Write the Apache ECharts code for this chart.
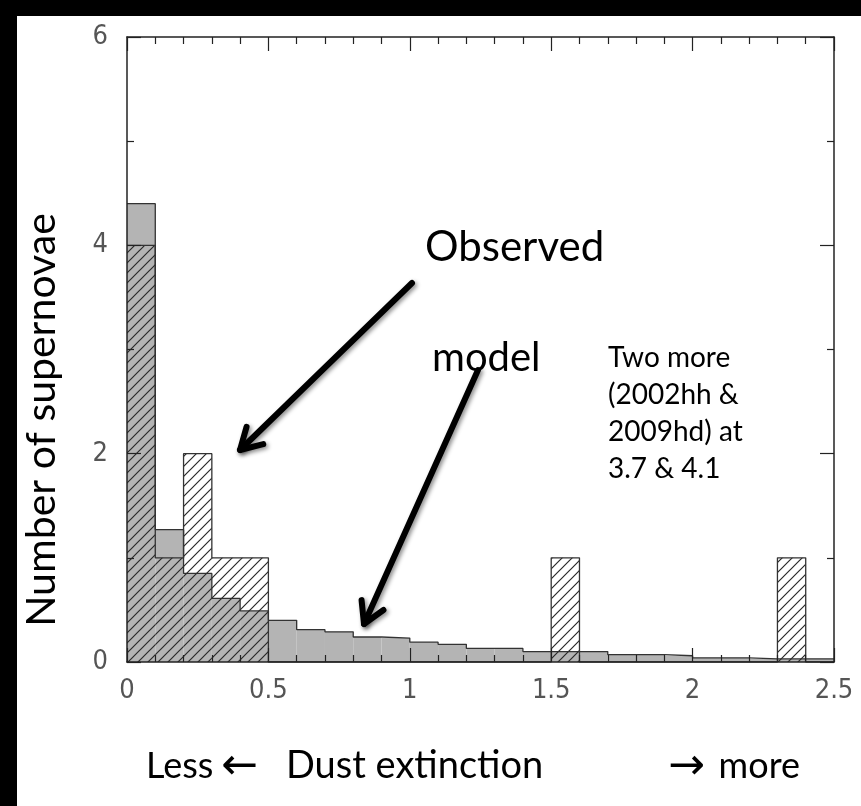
<!DOCTYPE html>
<html>
<head>
<meta charset="utf-8">
<script src="https://cdn.jsdelivr.net/npm/echarts@6/dist/echarts.min.js"></script>
<style>html,body{margin:0;padding:0;background:#fff}#c{width:861px;height:806px}</style>
</head>
<body>
<div id="c"></div>
<script>
// ---- data ----
const binLo = [0.0,0.1,0.2,0.3,0.4,0.5,0.6,0.7,0.8,0.9,1.0,1.1,1.2,1.3,1.4,1.5,1.6,1.7,1.8,1.9,2.0,2.1,2.2,2.3,2.4];
const binWidth = 0.1;
const modelCounts = [4.4,1.27,0.85,0.61,0.49,0.40,0.31,0.29,0.24,0.23,0.19,0.17,0.13,0.13,0.10,0.10,0.10,0.07,0.07,0.06,0.04,0.04,0.03,0.03,0.03];
const observedCounts = [4,1,2,1,1,0,0,0,0,0,0,0,0,0,0,1,0,0,0,0,0,0,0,1,0];
const xTickValues = [0,0.5,1,1.5,2,2.5];
const yTickValues = [0,2,4,6];
const xTitle = 'Dust extinction';
const xLeftWord = 'Less';
const xLeftArrow = '\u2190';
const xRightArrow = '\u2192';
const xRightWord = 'more';
const yTitle = 'Number of supernovae';
const noteObserved = 'Observed';
const noteModel = 'model';
const noteExtra = 'Two more\n(2002hh &\n2009hd) at\n3.7 & 4.1';

// ---- hatch pattern ----
const hc = document.createElement('canvas');
hc.width = 10; hc.height = 10;
const hx = hc.getContext('2d');
hx.strokeStyle = '#2a2a2a'; hx.lineWidth = 1.2;
hx.beginPath();
hx.moveTo(-5,5); hx.lineTo(5,-5);
hx.moveTo(0,10); hx.lineTo(10,0);
hx.moveTo(5,15); hx.lineTo(15,5);
hx.stroke();

const xMax = xTickValues[xTickValues.length-1];
const yMax = yTickValues[yTickValues.length-1];

function histData(counts){ return binLo.map((lo,i)=>[lo, lo+binWidth, counts[i]]); }
function stepData(counts){ const d = binLo.map((lo,i)=>[lo, counts[i]]); d.push([xMax, counts[counts.length-1]]); return d; }
function rectRenderer(fill){
  return function(params, api){
    const v = api.value(2);
    if (!v) return null;
    const p0 = api.coord([api.value(0), v]);
    const p1 = api.coord([api.value(1), 0]);
    return {type:'rect', shape:{x:p0[0], y:p0[1], width:p1[0]-p0[0], height:p1[1]-p0[1]}, style:{fill: fill}};
  };
}

const axisColor = '#222';
const tickFont = "'Liberation Sans Narrow', 'DejaVu Sans Condensed', 'Liberation Sans'";
function xAx(pos, showLabel){
  return {type:'value', position:pos, min:0, max:xMax, interval:xTickValues[1]-xTickValues[0], z:10,
    axisLine:{show:true, onZero:false, lineStyle:{color:axisColor, width:1.5}},
    axisTick:{show:true, inside:true, length:14, lineStyle:{color:axisColor, width:1.2}},
    minorTick:{show:true, splitNumber:5, length:7, lineStyle:{color:axisColor, width:1.2}},
    splitLine:{show:false}, minorSplitLine:{show:false},
    axisLabel:{show:showLabel, margin:15, fontFamily:tickFont, fontSize:27, color:'#555', showMinLabel:true, showMaxLabel:true}};
}
function yAx(pos, showLabel){
  return {type:'value', position:pos, min:0, max:yMax, interval:yTickValues[1]-yTickValues[0], z:10,
    axisLine:{show:true, onZero:false, lineStyle:{color:axisColor, width:1.5}},
    axisTick:{show:true, inside:true, length:14, lineStyle:{color:axisColor, width:1.2}},
    minorTick:{show:true, splitNumber:2, length:7, lineStyle:{color:axisColor, width:1.2}},
    splitLine:{show:false}, minorSplitLine:{show:false},
    axisLabel:{show:showLabel, margin:19, fontFamily:tickFont, fontSize:27, color:'#555'}};
}

const chart = echarts.init(document.getElementById('c'), null, {renderer:'canvas'});

// arrows (annotation, pixel positions)
function arrow(sx, sy, tx, ty){
  const ang = Math.atan2(sy-ty, sx-tx);
  const L = 24, a = Math.PI/6;
  const p1 = [tx + L*Math.cos(ang+a), ty + L*Math.sin(ang+a)];
  const p2 = [tx + L*Math.cos(ang-a), ty + L*Math.sin(ang-a)];
  const st = {stroke:'#000', lineWidth:6, lineCap:'round', lineJoin:'round', fill:null,
    shadowBlur:4, shadowColor:'rgba(0,0,0,0.45)', shadowOffsetX:2, shadowOffsetY:2};
  return [
    {type:'polyline', z:20, shape:{points:[[sx,sy],[tx,ty]]}, style:st},
    {type:'polyline', z:20, shape:{points:[p1,[tx,ty],p2]}, style:st}
  ];
}
function txt(x, y, text, size, align, extra){
  return Object.assign({type:'text', z:20, x:x, y:y, style:Object.assign({text:text, font: size+'px Lato', fill:'#000',
    align:align, textAlign:align, verticalAlign:'middle', textVerticalAlign:'middle'}, extra||{})});
}
function glyph(x, y, text, align){
  return {type:'text', z:20, x:x, y:y, style:{text:text, font:'44px "DejaVu Sans"', fill:'#000',
    align:align, textAlign:align, verticalAlign:'middle', textVerticalAlign:'middle'}};
}

const graphics = [
  {type:'rect', z:30, shape:{x:0,y:0,width:17,height:806}, style:{fill:'#000'}},
  {type:'rect', z:30, shape:{x:0,y:0,width:861,height:16}, style:{fill:'#000'}},
  txt(425, 247, noteObserved, 42, 'left'),
  txt(432, 358, noteModel, 40, 'left'),
  txt(608, 413, noteExtra, 28, 'left', {lineHeight:37}),
  txt(146, 766, xLeftWord, 36, 'left'),
  glyph(258, 768, xLeftArrow, 'right'),
  txt(286, 766, xTitle, 38, 'left'),
  glyph(668, 768, xRightArrow, 'left'),
  txt(800, 766, xRightWord, 36, 'right'),
  Object.assign(txt(0, 0, yTitle, 41, 'center'), {x:42, y:420, rotation:Math.PI/2})
].concat(arrow(412,283,240,450)).concat(arrow(478,370,364,624));

chart.setOption({
  backgroundColor:'#fff',
  animation:false,
  grid:{left:127, right:27, top:37, bottom:144, containLabel:false},
  xAxis:[xAx('bottom', true), xAx('top', false)],
  yAxis:[yAx('left', true), yAx('right', false)],
  series:[
    {type:'custom', name:'model', z:2, renderItem:rectRenderer('#b4b4b4'), encode:{x:[0,1], y:2}, data:histData(modelCounts)},
    {type:'line', name:'model outline', z:3, step:'end', symbol:'none', lineStyle:{color:'#333', width:1.3}, data:stepData(modelCounts)},
    {type:'custom', name:'observed', z:4, renderItem:rectRenderer({image:hc, repeat:'repeat'}), encode:{x:[0,1], y:2}, data:histData(observedCounts)},
    {type:'line', name:'observed outline', z:5, step:'end', symbol:'none', lineStyle:{color:'#333', width:1.3}, data:stepData(observedCounts)}
  ],
  graphic:graphics
});
</script>
</body>
</html>
